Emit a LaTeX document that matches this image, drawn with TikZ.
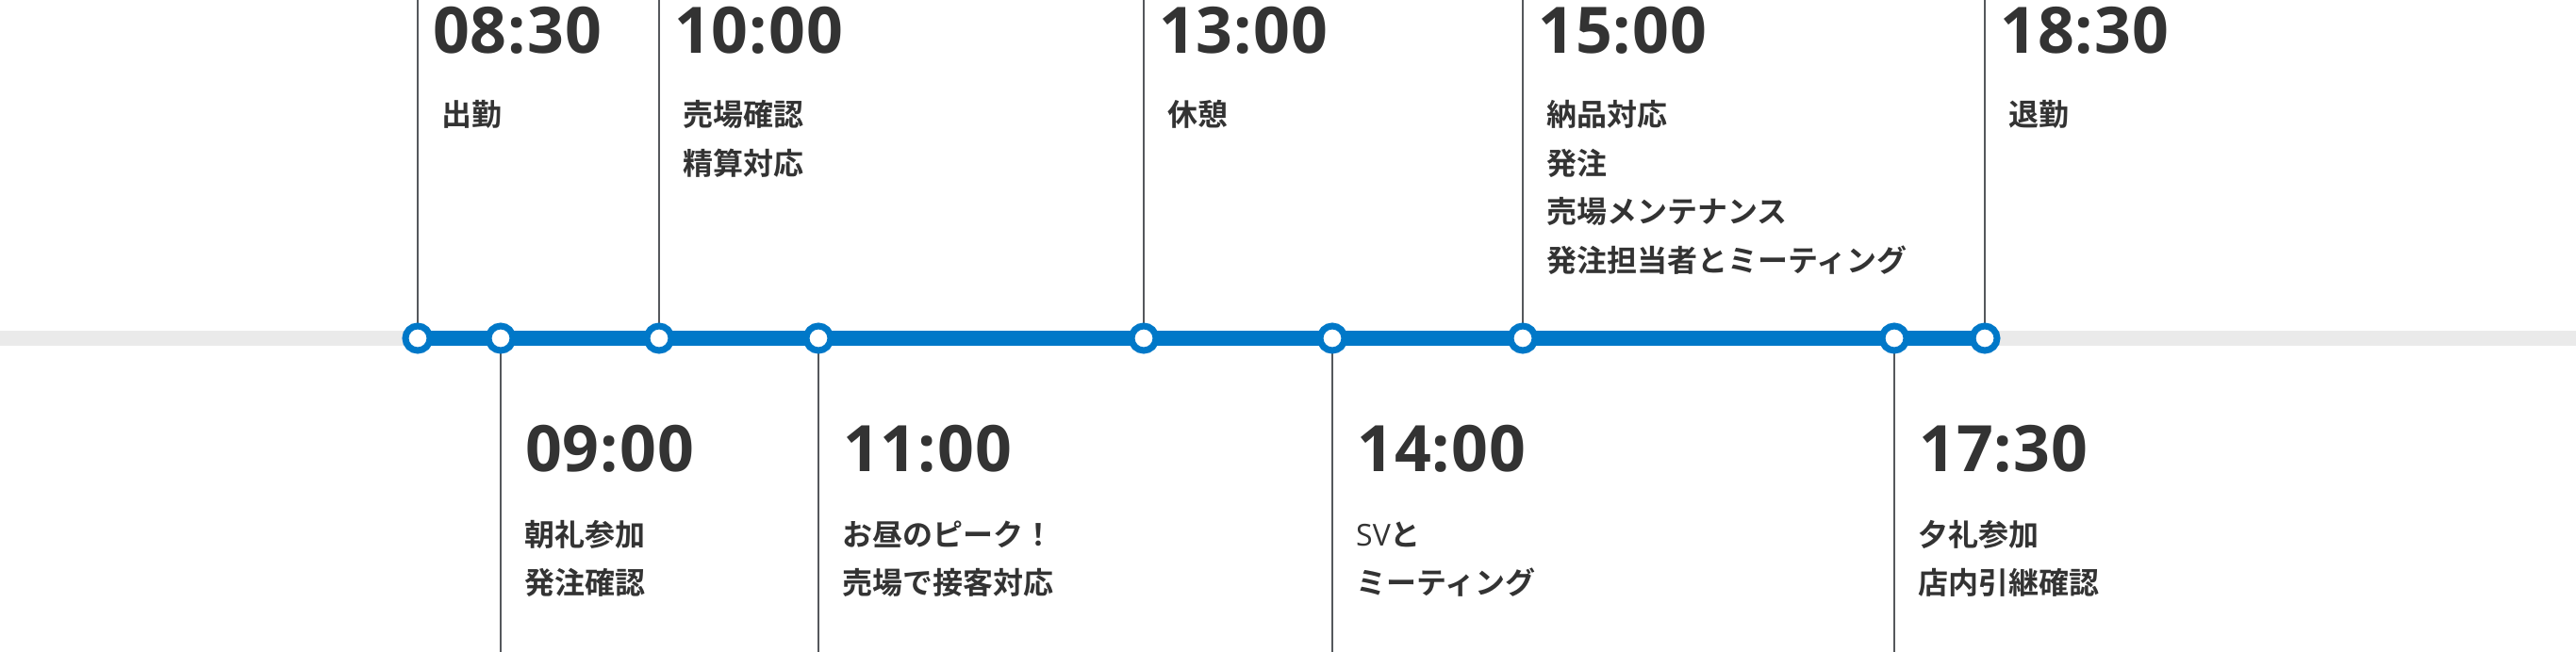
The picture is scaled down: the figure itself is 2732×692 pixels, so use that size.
\documentclass[tikz,border=0pt]{standalone}
\usepackage{fontspec}
\newfontfamily\timefont{Open Sans}
\newfontfamily\jfont{Noto Sans CJK JP Bold}
\definecolor{tlblue}{RGB}{0,120,200}
\definecolor{tlgrey}{RGB}{234,234,234}
\definecolor{tltick}{RGB}{85,88,92}
\definecolor{tltext}{RGB}{51,51,51}
\tikzset{
  track/.style={draw=tlgrey,line width=16pt},
  progress/.style={draw=tlblue,line width=16pt},
  tick/.style={draw=tltick,line width=2pt},
  dot/.style={circle,draw=tlblue,line width=7pt,fill=white,minimum size=26pt,inner sep=0pt},
  timelbl/.style={anchor=base west,inner sep=0pt,text=tltext,font=\timefont\bfseries\fontsize{68}{68}\selectfont\addfontfeatures{LetterSpace=1.5}},
  desclbl/.style={anchor=base west,inner sep=0pt,text=tltext,font=\jfont\fontsize{32}{40}\selectfont},
}
\begin{document}
\begin{tikzpicture}[x=1pt,y=-1pt]
\useasboundingbox (0,0) rectangle (2732,692);
% positions on the line
\coordinate (p1) at (443,359);
\coordinate (p2) at (531,359);
\coordinate (p3) at (699,359);
\coordinate (p4) at (868,359);
\coordinate (p5) at (1213,359);
\coordinate (p6) at (1413,359);
\coordinate (p7) at (1615,359);
\coordinate (p8) at (2009,359);
\coordinate (p9) at (2105,359);
\coordinate (left) at (0,359);
\coordinate (right) at (2732,359);
% tick ends
\coordinate (t1) at (443,0);
\coordinate (b2) at (531,692);
\coordinate (t3) at (699,0);
\coordinate (b4) at (868,692);
\coordinate (t5) at (1213,0);
\coordinate (b6) at (1413,692);
\coordinate (t7) at (1615,0);
\coordinate (b8) at (2009,692);
\coordinate (t9) at (2105,0);
% line
\draw[track] (left) -- (right);
\draw[progress] (p1) -- (p9);
% ticks
\draw[tick] (p1) -- (t1);
\draw[tick] (p2) -- (b2);
\draw[tick] (p3) -- (t3);
\draw[tick] (p4) -- (b4);
\draw[tick] (p5) -- (t5);
\draw[tick] (p6) -- (b6);
\draw[tick] (p7) -- (t7);
\draw[tick] (p8) -- (b8);
\draw[tick] (p9) -- (t9);
% dots
\foreach \i in {1,...,9} \node[dot] (d\i) at (p\i) {};
% top labels
\node[timelbl] (h1) at (459,57) {08:30};
\node[desclbl] (a1) at (468,134) {出勤};
\node[timelbl] (h3) at (715,57) {10:00};
\node[desclbl] (a3a) at (724,134) {売場確認};
\node[desclbl] (a3b) at (724,186) {精算対応};
\node[timelbl] (h5) at (1229,57) {13:00};
\node[desclbl] (a5) at (1238,134) {休憩};
\node[timelbl] (h7) at (1631,57) {15:00};
\node[desclbl] (a7a) at (1640,134) {納品対応};
\node[desclbl] (a7b) at (1640,186) {発注};
\node[desclbl] (a7c) at (1640,237) {売場メンテナンス};
\node[desclbl] (a7d) at (1640,289) {発注担当者とミーティング};
\node[timelbl] (h9) at (2121,57) {18:30};
\node[desclbl] (a9) at (2130,134) {退勤};
% bottom labels
\node[timelbl] (h2) at (557,500) {09:00};
\node[desclbl] (a2a) at (556,579) {朝礼参加};
\node[desclbl] (a2b) at (556,630) {発注確認};
\node[timelbl] (h4) at (894,500) {11:00};
\node[desclbl] (a4a) at (893,579) {お昼のピーク！};
\node[desclbl] (a4b) at (893,630) {売場で接客対応};
\node[timelbl] (h6) at (1439,500) {14:00};
\node[desclbl] (a6a) at (1438,579) {{\timefont SV}と};
\node[desclbl] (a6b) at (1438,630) {ミーティング};
\node[timelbl] (h8) at (2035,500) {17:30};
\node[desclbl] (a8a) at (2034,579) {夕礼参加};
\node[desclbl] (a8b) at (2034,630) {店内引継確認};
\end{tikzpicture}
\end{document}
